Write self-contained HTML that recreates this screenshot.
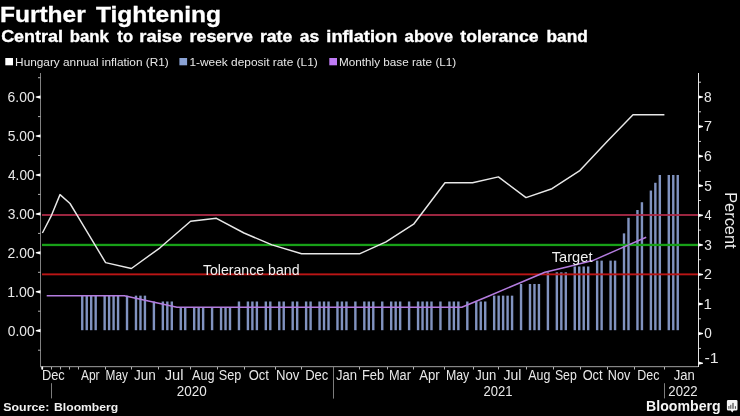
<!DOCTYPE html>
<html><head><meta charset="utf-8"><title>Further Tightening</title>
<style>html,body{margin:0;padding:0;background:#000;overflow:hidden}body{width:740px;height:416px;font-family:"Liberation Sans",sans-serif}</style></head>
<body>
<svg width="740" height="416" viewBox="0 0 740 416" style="display:block;will-change:transform">
<rect width="740" height="416" fill="#000"/>
<g fill="#8193c0">
<rect x="81.05" y="295.66" width="2.4" height="34.54"/>
<rect x="85.53" y="295.66" width="2.4" height="34.54"/>
<rect x="90.00" y="295.66" width="2.4" height="34.54"/>
<rect x="94.48" y="295.66" width="2.4" height="34.54"/>
<rect x="103.44" y="295.66" width="2.4" height="34.54"/>
<rect x="107.91" y="295.66" width="2.4" height="34.54"/>
<rect x="112.39" y="295.66" width="2.4" height="34.54"/>
<rect x="116.87" y="295.66" width="2.4" height="34.54"/>
<rect x="125.82" y="295.66" width="2.4" height="34.54"/>
<rect x="134.78" y="295.66" width="2.4" height="34.54"/>
<rect x="139.26" y="295.66" width="2.4" height="34.54"/>
<rect x="143.73" y="295.66" width="2.4" height="34.54"/>
<rect x="152.69" y="301.50" width="2.4" height="28.70"/>
<rect x="161.64" y="301.50" width="2.4" height="28.70"/>
<rect x="166.12" y="301.50" width="2.4" height="28.70"/>
<rect x="170.60" y="301.50" width="2.4" height="28.70"/>
<rect x="179.55" y="307.34" width="2.4" height="22.86"/>
<rect x="184.03" y="307.34" width="2.4" height="22.86"/>
<rect x="192.99" y="307.34" width="2.4" height="22.86"/>
<rect x="197.46" y="307.34" width="2.4" height="22.86"/>
<rect x="201.94" y="307.34" width="2.4" height="22.86"/>
<rect x="210.89" y="307.34" width="2.4" height="22.86"/>
<rect x="219.85" y="307.34" width="2.4" height="22.86"/>
<rect x="224.33" y="307.34" width="2.4" height="22.86"/>
<rect x="228.80" y="307.34" width="2.4" height="22.86"/>
<rect x="237.76" y="301.50" width="2.4" height="28.70"/>
<rect x="246.71" y="301.50" width="2.4" height="28.70"/>
<rect x="251.19" y="301.50" width="2.4" height="28.70"/>
<rect x="255.67" y="301.50" width="2.4" height="28.70"/>
<rect x="264.62" y="301.50" width="2.4" height="28.70"/>
<rect x="269.10" y="301.50" width="2.4" height="28.70"/>
<rect x="278.06" y="301.50" width="2.4" height="28.70"/>
<rect x="282.53" y="301.50" width="2.4" height="28.70"/>
<rect x="291.49" y="301.50" width="2.4" height="28.70"/>
<rect x="295.97" y="301.50" width="2.4" height="28.70"/>
<rect x="304.92" y="301.50" width="2.4" height="28.70"/>
<rect x="309.40" y="301.50" width="2.4" height="28.70"/>
<rect x="318.35" y="301.50" width="2.4" height="28.70"/>
<rect x="322.83" y="301.50" width="2.4" height="28.70"/>
<rect x="327.31" y="301.50" width="2.4" height="28.70"/>
<rect x="336.26" y="301.50" width="2.4" height="28.70"/>
<rect x="340.74" y="301.50" width="2.4" height="28.70"/>
<rect x="345.22" y="301.50" width="2.4" height="28.70"/>
<rect x="354.17" y="301.50" width="2.4" height="28.70"/>
<rect x="363.13" y="301.50" width="2.4" height="28.70"/>
<rect x="367.60" y="301.50" width="2.4" height="28.70"/>
<rect x="372.08" y="301.50" width="2.4" height="28.70"/>
<rect x="381.04" y="301.50" width="2.4" height="28.70"/>
<rect x="389.99" y="301.50" width="2.4" height="28.70"/>
<rect x="394.47" y="301.50" width="2.4" height="28.70"/>
<rect x="398.95" y="301.50" width="2.4" height="28.70"/>
<rect x="407.90" y="301.50" width="2.4" height="28.70"/>
<rect x="416.86" y="301.50" width="2.4" height="28.70"/>
<rect x="421.33" y="301.50" width="2.4" height="28.70"/>
<rect x="425.81" y="301.50" width="2.4" height="28.70"/>
<rect x="430.29" y="301.50" width="2.4" height="28.70"/>
<rect x="439.24" y="301.50" width="2.4" height="28.70"/>
<rect x="448.20" y="301.50" width="2.4" height="28.70"/>
<rect x="452.67" y="301.50" width="2.4" height="28.70"/>
<rect x="457.15" y="301.50" width="2.4" height="28.70"/>
<rect x="466.11" y="301.50" width="2.4" height="28.70"/>
<rect x="475.06" y="301.50" width="2.4" height="28.70"/>
<rect x="479.54" y="301.50" width="2.4" height="28.70"/>
<rect x="484.02" y="301.50" width="2.4" height="28.70"/>
<rect x="492.97" y="295.66" width="2.4" height="34.54"/>
<rect x="497.45" y="295.66" width="2.4" height="34.54"/>
<rect x="501.93" y="295.66" width="2.4" height="34.54"/>
<rect x="506.40" y="295.66" width="2.4" height="34.54"/>
<rect x="510.88" y="295.66" width="2.4" height="34.54"/>
<rect x="519.84" y="283.98" width="2.4" height="46.22"/>
<rect x="528.79" y="283.98" width="2.4" height="46.22"/>
<rect x="533.27" y="283.98" width="2.4" height="46.22"/>
<rect x="537.74" y="283.98" width="2.4" height="46.22"/>
<rect x="546.70" y="272.31" width="2.4" height="57.89"/>
<rect x="555.65" y="272.31" width="2.4" height="57.89"/>
<rect x="560.13" y="272.31" width="2.4" height="57.89"/>
<rect x="564.61" y="272.31" width="2.4" height="57.89"/>
<rect x="573.56" y="266.47" width="2.4" height="63.73"/>
<rect x="578.04" y="266.47" width="2.4" height="63.73"/>
<rect x="582.52" y="266.47" width="2.4" height="63.73"/>
<rect x="587.00" y="266.47" width="2.4" height="63.73"/>
<rect x="595.95" y="260.63" width="2.4" height="69.57"/>
<rect x="600.43" y="260.63" width="2.4" height="69.57"/>
<rect x="609.38" y="260.63" width="2.4" height="69.57"/>
<rect x="613.86" y="260.63" width="2.4" height="69.57"/>
<rect x="622.82" y="233.38" width="2.4" height="96.82"/>
<rect x="627.29" y="217.80" width="2.4" height="112.40"/>
<rect x="636.25" y="210.02" width="2.4" height="120.18"/>
<rect x="640.73" y="202.23" width="2.4" height="127.97"/>
<rect x="649.68" y="190.55" width="2.4" height="139.65"/>
<rect x="654.16" y="182.77" width="2.4" height="147.43"/>
<rect x="658.63" y="174.98" width="2.4" height="155.22"/>
<rect x="667.59" y="174.98" width="2.4" height="155.22"/>
<rect x="672.07" y="174.98" width="2.4" height="155.22"/>
<rect x="676.54" y="174.98" width="2.4" height="155.22"/>
</g>
<rect x="42" y="214.1" width="656" height="1.8" fill="#ac2b47"/>
<rect x="42" y="243.8" width="656" height="2.3" fill="#18a018"/>
<rect x="42" y="273.4" width="656" height="1.9" fill="#ba1515"/>
<polyline fill="none" stroke="#b47cdf" stroke-width="1.5" stroke-linejoin="round" points="46.7,295.7 124.3,295.7 150.7,301.5 177.0,307.3 461.8,307.3 489.5,295.7 517.2,284.0 544.9,272.3 569.0,266.5 592.7,260.6 619.5,248.9 646.2,237.3"/>
<polyline fill="none" stroke="#e8e8e8" stroke-width="1.45" stroke-linejoin="round" points="42.4,233.0 51.5,215.3 60.0,194.6 70.0,203.5 79.0,218.3 105.6,262.6 131.4,268.5 160.0,247.8 190.6,221.2 216.4,218.3 244.0,233.0 272.0,244.9 301.6,253.7 330.0,253.7 360.0,253.7 386.0,241.9 413.6,224.2 445.0,182.8 472.6,182.8 498.4,176.9 526.0,197.6 552.0,188.7 579.4,170.9 607.1,141.4 633.0,114.7 664.4,114.7"/>
<rect x="40" y="73" width="1" height="294" fill="#808080"/>
<rect x="698" y="73" width="1" height="294" fill="#e4e4e4"/>
<rect x="40" y="366" width="658" height="1.2" fill="#858585"/>
<path d="M40.5,329.1 L35.8,330.2 L35.8,331.2 L40.5,332.3 Z" fill="#fff"/>
<text x="7.75" y="335.50" font-family="Liberation Sans, sans-serif" font-size="14" fill="#e8e8e8" textLength="26.89" lengthAdjust="spacingAndGlyphs">0.00</text>
<path d="M40.5,290.2 L35.8,291.3 L35.8,292.3 L40.5,293.4 Z" fill="#fff"/>
<text x="7.24" y="296.57" font-family="Liberation Sans, sans-serif" font-size="14" fill="#e8e8e8" textLength="27.40" lengthAdjust="spacingAndGlyphs">1.00</text>
<path d="M40.5,251.2 L35.8,252.3 L35.8,253.3 L40.5,254.4 Z" fill="#fff"/>
<text x="7.61" y="257.64" font-family="Liberation Sans, sans-serif" font-size="14" fill="#e8e8e8" textLength="27.03" lengthAdjust="spacingAndGlyphs">2.00</text>
<path d="M40.5,212.3 L35.8,213.4 L35.8,214.4 L40.5,215.5 Z" fill="#fff"/>
<text x="7.78" y="218.71" font-family="Liberation Sans, sans-serif" font-size="14" fill="#e8e8e8" textLength="26.85" lengthAdjust="spacingAndGlyphs">3.00</text>
<path d="M40.5,173.4 L35.8,174.5 L35.8,175.5 L40.5,176.6 Z" fill="#fff"/>
<text x="7.99" y="179.78" font-family="Liberation Sans, sans-serif" font-size="14" fill="#e8e8e8" textLength="26.64" lengthAdjust="spacingAndGlyphs">4.00</text>
<path d="M40.5,134.4 L35.8,135.5 L35.8,136.5 L40.5,137.6 Z" fill="#fff"/>
<text x="7.75" y="140.85" font-family="Liberation Sans, sans-serif" font-size="14" fill="#e8e8e8" textLength="26.89" lengthAdjust="spacingAndGlyphs">5.00</text>
<path d="M40.5,95.5 L35.8,96.6 L35.8,97.6 L40.5,98.7 Z" fill="#fff"/>
<text x="7.61" y="101.92" font-family="Liberation Sans, sans-serif" font-size="14" fill="#e8e8e8" textLength="27.03" lengthAdjust="spacingAndGlyphs">6.00</text>
<rect x="38" y="77.2" width="2.5" height="1" fill="#b0b0b0"/>
<rect x="38" y="116.1" width="2.5" height="1" fill="#b0b0b0"/>
<rect x="38" y="155.0" width="2.5" height="1" fill="#b0b0b0"/>
<rect x="38" y="193.9" width="2.5" height="1" fill="#b0b0b0"/>
<rect x="38" y="232.9" width="2.5" height="1" fill="#b0b0b0"/>
<rect x="38" y="271.8" width="2.5" height="1" fill="#b0b0b0"/>
<rect x="38" y="310.7" width="2.5" height="1" fill="#b0b0b0"/>
<rect x="38" y="349.7" width="2.5" height="1" fill="#b0b0b0"/>
<path d="M698.5,361.6 L703,362.7 L703,363.7 L698.5,364.8 Z" fill="#fff"/>
<text x="704.48" y="363.00" font-family="Liberation Sans, sans-serif" font-size="14" fill="#e8e8e8" textLength="14.20" lengthAdjust="spacingAndGlyphs">-1</text>
<path d="M698.5,332.0 L703,333.1 L703,334.1 L698.5,335.2 Z" fill="#fff"/>
<text x="704.16" y="338.40" font-family="Liberation Sans, sans-serif" font-size="14" fill="#e8e8e8" textLength="7.57" lengthAdjust="spacingAndGlyphs">0</text>
<path d="M698.5,302.4 L703,303.5 L703,304.5 L698.5,305.6 Z" fill="#fff"/>
<text x="703.57" y="308.83" font-family="Liberation Sans, sans-serif" font-size="14" fill="#e8e8e8" textLength="8.36" lengthAdjust="spacingAndGlyphs">1</text>
<path d="M698.5,272.9 L703,274.0 L703,275.0 L698.5,276.1 Z" fill="#fff"/>
<text x="703.99" y="279.25" font-family="Liberation Sans, sans-serif" font-size="14" fill="#e8e8e8" textLength="7.95" lengthAdjust="spacingAndGlyphs">2</text>
<path d="M698.5,243.3 L703,244.4 L703,245.4 L698.5,246.5 Z" fill="#fff"/>
<text x="704.19" y="249.68" font-family="Liberation Sans, sans-serif" font-size="14" fill="#e8e8e8" textLength="7.61" lengthAdjust="spacingAndGlyphs">3</text>
<path d="M698.5,213.7 L703,214.8 L703,215.8 L698.5,216.9 Z" fill="#fff"/>
<text x="704.41" y="220.10" font-family="Liberation Sans, sans-serif" font-size="14" fill="#e8e8e8" textLength="7.16" lengthAdjust="spacingAndGlyphs">4</text>
<path d="M698.5,184.1 L703,185.2 L703,186.2 L698.5,187.3 Z" fill="#fff"/>
<text x="704.15" y="190.53" font-family="Liberation Sans, sans-serif" font-size="14" fill="#e8e8e8" textLength="7.61" lengthAdjust="spacingAndGlyphs">5</text>
<path d="M698.5,154.6 L703,155.7 L703,156.7 L698.5,157.8 Z" fill="#fff"/>
<text x="704.00" y="160.95" font-family="Liberation Sans, sans-serif" font-size="14" fill="#e8e8e8" textLength="7.82" lengthAdjust="spacingAndGlyphs">6</text>
<path d="M698.5,125.0 L703,126.1 L703,127.1 L698.5,128.2 Z" fill="#fff"/>
<text x="703.95" y="131.38" font-family="Liberation Sans, sans-serif" font-size="14" fill="#e8e8e8" textLength="7.99" lengthAdjust="spacingAndGlyphs">7</text>
<path d="M698.5,95.4 L703,96.5 L703,97.5 L698.5,98.6 Z" fill="#fff"/>
<text x="704.11" y="101.80" font-family="Liberation Sans, sans-serif" font-size="14" fill="#e8e8e8" textLength="7.69" lengthAdjust="spacingAndGlyphs">8</text>
<rect x="699" y="81.7" width="2" height="1" fill="#c8c8c8"/>
<rect x="699" y="111.3" width="2" height="1" fill="#c8c8c8"/>
<rect x="699" y="140.9" width="2" height="1" fill="#c8c8c8"/>
<rect x="699" y="170.4" width="2" height="1" fill="#c8c8c8"/>
<rect x="699" y="200.0" width="2" height="1" fill="#c8c8c8"/>
<rect x="699" y="229.6" width="2" height="1" fill="#c8c8c8"/>
<rect x="699" y="259.2" width="2" height="1" fill="#c8c8c8"/>
<rect x="699" y="288.7" width="2" height="1" fill="#c8c8c8"/>
<rect x="699" y="318.3" width="2" height="1" fill="#c8c8c8"/>
<rect x="699" y="347.9" width="2" height="1" fill="#c8c8c8"/>
<rect x="42" y="367" width="1" height="2.5" fill="#b4b4b4"/>
<rect x="51" y="367" width="1" height="2.5" fill="#b4b4b4"/>
<rect x="60" y="367" width="1" height="2.5" fill="#b4b4b4"/>
<rect x="69" y="367" width="1" height="2.5" fill="#b4b4b4"/>
<rect x="78" y="367" width="1" height="2.5" fill="#b4b4b4"/>
<rect x="105" y="367" width="1" height="2.5" fill="#b4b4b4"/>
<rect x="131" y="367" width="1" height="2.5" fill="#b4b4b4"/>
<rect x="158" y="367" width="1" height="2.5" fill="#b4b4b4"/>
<rect x="190" y="367" width="1" height="2.5" fill="#b4b4b4"/>
<rect x="217" y="367" width="1" height="2.5" fill="#b4b4b4"/>
<rect x="244" y="367" width="1" height="2.5" fill="#b4b4b4"/>
<rect x="275" y="367" width="1" height="2.5" fill="#b4b4b4"/>
<rect x="301" y="367" width="1" height="2.5" fill="#b4b4b4"/>
<rect x="333" y="367" width="1" height="2.5" fill="#b4b4b4"/>
<rect x="359" y="367" width="1" height="2.5" fill="#b4b4b4"/>
<rect x="387" y="367" width="1" height="2.5" fill="#b4b4b4"/>
<rect x="413" y="367" width="1" height="2.5" fill="#b4b4b4"/>
<rect x="444" y="367" width="1" height="2.5" fill="#b4b4b4"/>
<rect x="473" y="367" width="1" height="2.5" fill="#b4b4b4"/>
<rect x="498" y="367" width="1" height="2.5" fill="#b4b4b4"/>
<rect x="526" y="367" width="1" height="2.5" fill="#b4b4b4"/>
<rect x="553" y="367" width="1" height="2.5" fill="#b4b4b4"/>
<rect x="580" y="367" width="1" height="2.5" fill="#b4b4b4"/>
<rect x="607" y="367" width="1" height="2.5" fill="#b4b4b4"/>
<rect x="634" y="367" width="1" height="2.5" fill="#b4b4b4"/>
<rect x="664" y="367" width="1" height="2.5" fill="#b4b4b4"/>
<rect x="41.3" y="366.6" width="1.8" height="2.9" fill="#fff"/>
<text x="41.94" y="380.40" font-family="Liberation Sans, sans-serif" font-size="14" fill="#e8e8e8" textLength="22.82" lengthAdjust="spacingAndGlyphs">Dec</text>
<text x="80.97" y="380.40" font-family="Liberation Sans, sans-serif" font-size="14" fill="#e8e8e8" textLength="18.62" lengthAdjust="spacingAndGlyphs">Apr</text>
<text x="105.62" y="380.40" font-family="Liberation Sans, sans-serif" font-size="14" fill="#e8e8e8" textLength="22.40" lengthAdjust="spacingAndGlyphs">May</text>
<text x="134.05" y="380.40" font-family="Liberation Sans, sans-serif" font-size="14" fill="#e8e8e8" textLength="21.87" lengthAdjust="spacingAndGlyphs">Jun</text>
<text x="164.78" y="380.40" font-family="Liberation Sans, sans-serif" font-size="14" fill="#e8e8e8" textLength="18.72" lengthAdjust="spacingAndGlyphs">Jul</text>
<text x="191.97" y="380.40" font-family="Liberation Sans, sans-serif" font-size="14" fill="#e8e8e8" textLength="22.60" lengthAdjust="spacingAndGlyphs">Aug</text>
<text x="218.68" y="380.40" font-family="Liberation Sans, sans-serif" font-size="14" fill="#e8e8e8" textLength="22.60" lengthAdjust="spacingAndGlyphs">Sep</text>
<text x="248.63" y="380.40" font-family="Liberation Sans, sans-serif" font-size="14" fill="#e8e8e8" textLength="20.22" lengthAdjust="spacingAndGlyphs">Oct</text>
<text x="275.91" y="380.40" font-family="Liberation Sans, sans-serif" font-size="14" fill="#e8e8e8" textLength="23.41" lengthAdjust="spacingAndGlyphs">Nov</text>
<text x="305.17" y="380.40" font-family="Liberation Sans, sans-serif" font-size="14" fill="#e8e8e8" textLength="23.20" lengthAdjust="spacingAndGlyphs">Dec</text>
<text x="336.05" y="380.40" font-family="Liberation Sans, sans-serif" font-size="14" fill="#e8e8e8" textLength="21.08" lengthAdjust="spacingAndGlyphs">Jan</text>
<text x="361.93" y="380.40" font-family="Liberation Sans, sans-serif" font-size="14" fill="#e8e8e8" textLength="22.35" lengthAdjust="spacingAndGlyphs">Feb</text>
<text x="388.95" y="380.40" font-family="Liberation Sans, sans-serif" font-size="14" fill="#e8e8e8" textLength="21.99" lengthAdjust="spacingAndGlyphs">Mar</text>
<text x="419.22" y="380.40" font-family="Liberation Sans, sans-serif" font-size="14" fill="#e8e8e8" textLength="20.50" lengthAdjust="spacingAndGlyphs">Apr</text>
<text x="445.98" y="380.40" font-family="Liberation Sans, sans-serif" font-size="14" fill="#e8e8e8" textLength="23.29" lengthAdjust="spacingAndGlyphs">May</text>
<text x="475.30" y="380.40" font-family="Liberation Sans, sans-serif" font-size="14" fill="#e8e8e8" textLength="21.08" lengthAdjust="spacingAndGlyphs">Jun</text>
<text x="503.54" y="380.40" font-family="Liberation Sans, sans-serif" font-size="14" fill="#e8e8e8" textLength="17.92" lengthAdjust="spacingAndGlyphs">Jul</text>
<text x="528.22" y="380.40" font-family="Liberation Sans, sans-serif" font-size="14" fill="#e8e8e8" textLength="22.08" lengthAdjust="spacingAndGlyphs">Aug</text>
<text x="554.95" y="380.40" font-family="Liberation Sans, sans-serif" font-size="14" fill="#e8e8e8" textLength="21.81" lengthAdjust="spacingAndGlyphs">Sep</text>
<text x="582.64" y="380.40" font-family="Liberation Sans, sans-serif" font-size="14" fill="#e8e8e8" textLength="19.96" lengthAdjust="spacingAndGlyphs">Oct</text>
<text x="607.86" y="380.40" font-family="Liberation Sans, sans-serif" font-size="14" fill="#e8e8e8" textLength="22.52" lengthAdjust="spacingAndGlyphs">Nov</text>
<text x="637.37" y="380.40" font-family="Liberation Sans, sans-serif" font-size="14" fill="#e8e8e8" textLength="22.18" lengthAdjust="spacingAndGlyphs">Dec</text>
<text x="673.80" y="380.40" font-family="Liberation Sans, sans-serif" font-size="14" fill="#e8e8e8" textLength="21.08" lengthAdjust="spacingAndGlyphs">Jan</text>
<text x="176.83" y="396.00" font-family="Liberation Sans, sans-serif" font-size="14" fill="#e8e8e8" textLength="29.96" lengthAdjust="spacingAndGlyphs">2020</text>
<text x="483.60" y="396.00" font-family="Liberation Sans, sans-serif" font-size="14" fill="#e8e8e8" textLength="29.05" lengthAdjust="spacingAndGlyphs">2021</text>
<text x="668.34" y="396.00" font-family="Liberation Sans, sans-serif" font-size="14" fill="#e8e8e8" textLength="29.35" lengthAdjust="spacingAndGlyphs">2022</text>
<rect x="51" y="383.2" width="1" height="15.2" fill="#7c7c7c"/>
<rect x="333" y="367" width="1" height="31.6" fill="#7c7c7c"/>
<rect x="664" y="383.2" width="1" height="15.2" fill="#7c7c7c"/>
<text x="202.88" y="275.40" font-family="Liberation Sans, sans-serif" font-size="15" fill="#f0f0f0" textLength="96.62" lengthAdjust="spacingAndGlyphs">Tolerance band</text>
<text x="551.77" y="261.50" font-family="Liberation Sans, sans-serif" font-size="14.5" fill="#f0f0f0" textLength="40.73" lengthAdjust="spacingAndGlyphs">Target</text>
<text transform="translate(725.1,192.2) rotate(90)" font-family="Liberation Sans, sans-serif" font-size="17.4" fill="#f0f0f0" textLength="56.4" lengthAdjust="spacingAndGlyphs">Percent</text>
<text x="-0.06" y="21.90" font-family="Liberation Sans, sans-serif" font-size="22" font-weight="bold" fill="#fff" textLength="85.83" lengthAdjust="spacingAndGlyphs" stroke="#fff" stroke-width="0.3">Further</text>
<text x="95.95" y="21.90" font-family="Liberation Sans, sans-serif" font-size="22" font-weight="bold" fill="#fff" textLength="125.09" lengthAdjust="spacingAndGlyphs" stroke="#fff" stroke-width="0.3">Tightening</text>
<text x="1.18" y="42.00" font-family="Liberation Sans, sans-serif" font-size="16" font-weight="bold" fill="#fff" textLength="61.68" lengthAdjust="spacingAndGlyphs" stroke="#fff" stroke-width="0.35">Central</text>
<text x="69.71" y="42.00" font-family="Liberation Sans, sans-serif" font-size="16" font-weight="bold" fill="#fff" textLength="39.18" lengthAdjust="spacingAndGlyphs" stroke="#fff" stroke-width="0.35">bank</text>
<text x="117.39" y="42.00" font-family="Liberation Sans, sans-serif" font-size="16" font-weight="bold" fill="#fff" textLength="15.65" lengthAdjust="spacingAndGlyphs" stroke="#fff" stroke-width="0.35">to</text>
<text x="139.31" y="42.00" font-family="Liberation Sans, sans-serif" font-size="16" font-weight="bold" fill="#fff" textLength="42.90" lengthAdjust="spacingAndGlyphs" stroke="#fff" stroke-width="0.35">raise</text>
<text x="189.64" y="42.00" font-family="Liberation Sans, sans-serif" font-size="16" font-weight="bold" fill="#fff" textLength="63.37" lengthAdjust="spacingAndGlyphs" stroke="#fff" stroke-width="0.35">reserve</text>
<text x="259.96" y="42.00" font-family="Liberation Sans, sans-serif" font-size="16" font-weight="bold" fill="#fff" textLength="32.25" lengthAdjust="spacingAndGlyphs" stroke="#fff" stroke-width="0.35">rate</text>
<text x="299.78" y="42.00" font-family="Liberation Sans, sans-serif" font-size="16" font-weight="bold" fill="#fff" textLength="19.36" lengthAdjust="spacingAndGlyphs" stroke="#fff" stroke-width="0.35">as</text>
<text x="326.32" y="42.00" font-family="Liberation Sans, sans-serif" font-size="16" font-weight="bold" fill="#fff" textLength="70.99" lengthAdjust="spacingAndGlyphs" stroke="#fff" stroke-width="0.35">inflation</text>
<text x="404.60" y="42.00" font-family="Liberation Sans, sans-serif" font-size="16" font-weight="bold" fill="#fff" textLength="48.35" lengthAdjust="spacingAndGlyphs" stroke="#fff" stroke-width="0.35">above</text>
<text x="460.28" y="42.00" font-family="Liberation Sans, sans-serif" font-size="16" font-weight="bold" fill="#fff" textLength="78.32" lengthAdjust="spacingAndGlyphs" stroke="#fff" stroke-width="0.35">tolerance</text>
<text x="546.48" y="42.00" font-family="Liberation Sans, sans-serif" font-size="16" font-weight="bold" fill="#fff" textLength="41.27" lengthAdjust="spacingAndGlyphs" stroke="#fff" stroke-width="0.35">band</text>
<rect x="5.3" y="58" width="7.7" height="7.3" fill="#fff"/>
<text x="15.13" y="65.80" font-family="Liberation Sans, sans-serif" font-size="11.2" fill="#e8e8e8" textLength="153.62" lengthAdjust="spacingAndGlyphs">Hungary annual inflation (R1)</text>
<rect x="179.4" y="58" width="7.7" height="7.3" fill="#8aa2d4"/>
<text x="189.41" y="65.80" font-family="Liberation Sans, sans-serif" font-size="11.2" fill="#e8e8e8" textLength="128.35" lengthAdjust="spacingAndGlyphs">1-week deposit rate (L1)</text>
<rect x="329.3" y="58" width="7.7" height="7.3" fill="#c07cf6"/>
<text x="339.03" y="65.80" font-family="Liberation Sans, sans-serif" font-size="11.2" fill="#e8e8e8" textLength="117.20" lengthAdjust="spacingAndGlyphs">Monthly base rate (L1)</text>
<text x="3.33" y="411.20" font-family="Liberation Sans, sans-serif" font-size="11" font-weight="bold" fill="#f0f0f0" textLength="45.95" lengthAdjust="spacingAndGlyphs">Source:</text>
<text x="54.08" y="411.20" font-family="Liberation Sans, sans-serif" font-size="11" font-weight="bold" fill="#f0f0f0" textLength="64.12" lengthAdjust="spacingAndGlyphs">Bloomberg</text>
<text x="646.05" y="410.50" font-family="Liberation Sans, sans-serif" font-size="14.4" font-weight="bold" fill="#f4f4f4" textLength="74.58" lengthAdjust="spacingAndGlyphs">Bloomberg</text>
<path d="M728.2,400 h8 a1.3,1.3 0 0 1 1.3,1.3 v8 a1.3,1.3 0 0 1 -1.3,1.3 h-2.6 l-1.4,1.8 l-1.4,-1.8 h-2.6 a1.3,1.3 0 0 1 -1.3,-1.3 v-8 a1.3,1.3 0 0 1 1.3,-1.3 z" fill="#f4f4f4"/>
<g fill="#444"><rect x="728.4" y="406" width="1" height="2.8"/><rect x="730.3" y="404.8" width="1" height="4"/><rect x="732.4" y="402.9" width="1.2" height="5.9"/><rect x="734.9" y="406.2" width="1" height="2.6"/></g>
</svg>
</body></html>
